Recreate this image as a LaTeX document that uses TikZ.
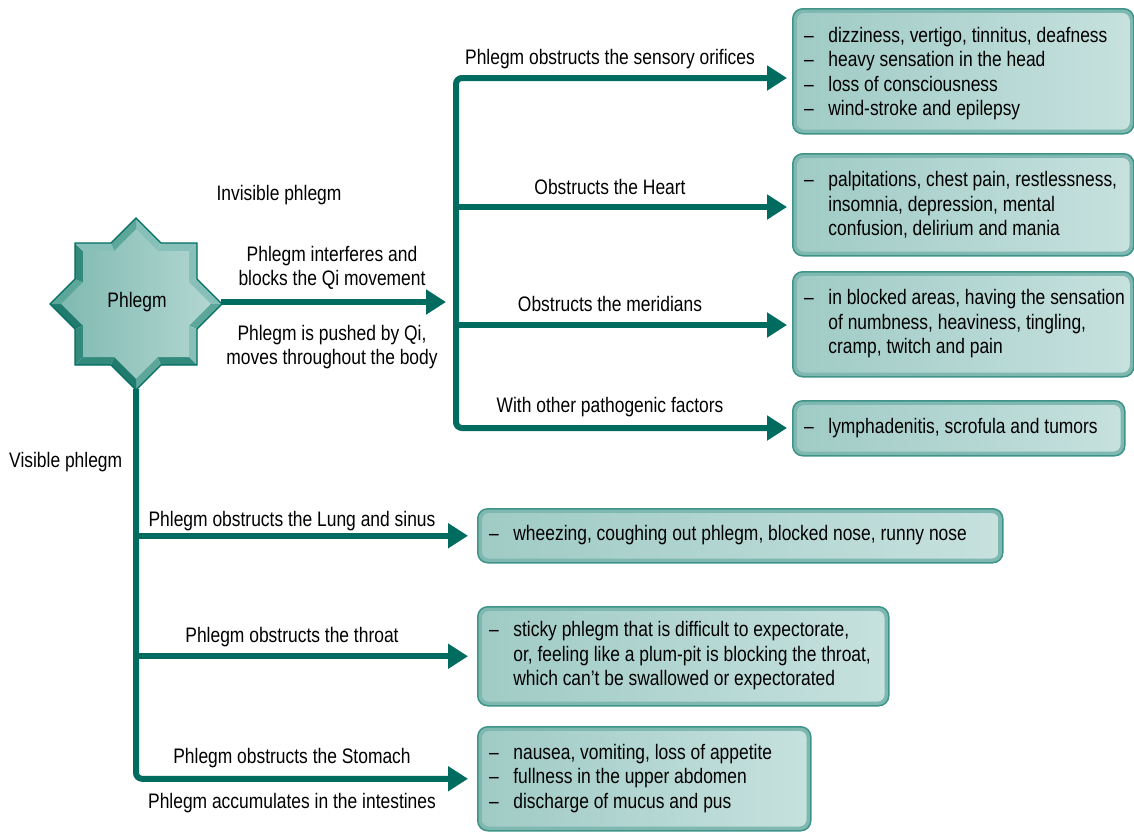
\documentclass[tikz,border=0pt]{standalone}
\usepackage{fontspec}
\setmainfont[FakeStretch=0.83]{Liberation Sans}
\usetikzlibrary{arrows.meta}
\definecolor{flow}{RGB}{0,108,96}
\definecolor{boxedge}{RGB}{62,148,136}
\definecolor{boxrim}{RGB}{126,184,176}
\definecolor{boxinL}{RGB}{160,203,197}
\definecolor{boxinR}{RGB}{198,225,222}
\definecolor{bevA}{RGB}{134,192,184}
\definecolor{bevB}{RGB}{92,166,154}
\definecolor{bevC}{RGB}{50,138,125}
\definecolor{bevD}{RGB}{32,122,110}
\definecolor{starinL}{RGB}{128,186,178}
\definecolor{starinR}{RGB}{178,214,209}
\tikzset{
  flowline/.style={draw=flow, line width=6pt},
  flowarrow/.style={flowline, -{Triangle[length=20pt,width=24pt]}},
  boxouter/.style={draw=boxedge, line width=1.5pt, fill=boxrim, rounded corners=10pt, inner sep=0pt},
  boxinner/.style={left color=boxinL, right color=boxinR, rounded corners=7pt},
  lbl/.style={inner sep=0pt, anchor=base, align=center},
  mlbl/.style={inner sep=0pt, anchor=center, align=center},
}
% [text shift], name, x, y, width, height, list
\newcommand\symbox[7][0pt]{%
  \node[boxouter, minimum width=#5pt, minimum height=#6pt, anchor=north west] (#2) at (#3,#4) {};
  \shade[boxinner] ([xshift=5pt,yshift=-5pt]#2.north west) rectangle ([xshift=-5pt,yshift=5pt]#2.south east);
  \node[anchor=west, inner sep=0pt] (#2t) at ([xshift=12pt,yshift=#1]#2.west)
    {\begin{tabular}{@{}l@{\hspace{14.5pt}}l@{}}#7\end{tabular}};
}
\begin{document}
\begin{tikzpicture}[x=1pt, y=-1pt, font=\fontsize{21}{24.5}\selectfont]
\useasboundingbox (0,0) rectangle (1134,831);

% central eight-pointed star: a square and a diamond, with a bevelled rim
\node[circle, minimum size=170pt, inner sep=0pt] (phlegm) at (136,304) {};
\begin{scope}[shift={(phlegm.center)}, yscale=-1]
  \foreach \n/\x/\y in {1/0/86, 2/25/61, 3/61/61, 4/61/25, 5/86/0, 6/61/-25, 7/61/-61, 8/25/-61,
                        9/0/-86, 10/-25/-61, 11/-61/-61, 12/-61/-25, 13/-86/0, 14/-61/25, 15/-61/61, 16/-25/61}
    \coordinate (o\n) at (\x,\y);
  \foreach \n/\x/\y in {1/0/74.7, 2/21.7/53, 3/53/53, 4/53/21.7, 5/74.7/0, 6/53/-21.7, 7/53/-53, 8/21.7/-53,
                        9/0/-74.7, 10/-21.7/-53, 11/-53/-53, 12/-53/-21.7, 13/-74.7/0, 14/-53/21.7, 15/-53/53, 16/-21.7/53}
    \coordinate (i\n) at (\x,\y);
  \foreach \a/\b/\c in {1/2/bevA, 2/3/bevA, 3/4/bevA, 4/5/bevA, 5/6/bevB, 6/7/bevA, 7/8/bevC, 8/9/bevB,
                        9/10/bevD, 10/11/bevC, 11/12/bevC, 12/13/bevD, 13/14/bevB, 14/15/bevC, 15/16/bevA, 16/1/bevB}
    \fill[\c] (o\a) -- (o\b) -- (i\b) -- (i\a) -- cycle;
  \shade[left color=starinL, right color=starinR]
    (i1) -- (i2) -- (i3) -- (i4) -- (i5) -- (i6) -- (i7) -- (i8) -- (i9) -- (i10) -- (i11) -- (i12) -- (i13) -- (i14) -- (i15) -- (i16) -- cycle;
  \draw[flow, line width=1.3pt, line join=miter]
    (o1) -- (o2) -- (o3) -- (o4) -- (o5) -- (o6) -- (o7) -- (o8) -- (o9) -- (o10) -- (o11) -- (o12) -- (o13) -- (o14) -- (o15) -- (o16) -- cycle;
\end{scope}
\node[inner sep=0pt] (phlegmtxt) at (137,302) {Phlegm};

% symptom boxes
\symbox[-3pt]{b1}{792}{8}{341}{125}{–&dizziness, vertigo, tinnitus, deafness\\ –&heavy sensation in the head\\ –&loss of consciousness\\ –&wind-stroke and epilepsy}
\symbox[-1.5pt]{b2}{792}{153}{341}{102}{–&palpitations, chest pain, restlessness,\\ &insomnia, depression, mental\\ &confusion, delirium and mania}
\symbox{b3}{792}{271}{341}{105}{–&in blocked areas, having the sensation\\ &of numbness, heaviness, tingling,\\ &cramp, twitch and pain}
\symbox{b4}{792}{400}{332}{55}{–&lymphadenitis, scrofula and tumors}
\symbox{b5}{477}{508}{525}{54}{–&wheezing, coughing out phlegm, blocked nose, runny nose}
\symbox{b6}{477}{606}{411}{99}{–&sticky phlegm that is difficult to expectorate,\\ &or, feeling like a plum-pit is blocking the throat,\\ &which can’t be swallowed or expectorated}
\symbox{b7}{477}{726}{333}{104}{–&nausea, vomiting, loss of appetite\\ –&fullness in the upper abdomen\\ –&discharge of mucus and pus}

% invisible phlegm branch
\coordinate (hub) at (456,302);
\coordinate (t1) at (787,78);
\coordinate (t2) at (787,207);
\coordinate (t3) at (787,325);
\coordinate (t4) at (787,428);
\draw[flowarrow, shorten >=10pt] (phlegm.east |- hub) -- (hub);
\draw[flowarrow, rounded corners=6pt] (hub) |- (t1);
\draw[flowarrow, rounded corners=6pt] (hub) |- (t4);
\draw[flowarrow] (hub |- t2) -- (t2);
\draw[flowarrow] (hub |- t3) -- (t3);

% visible phlegm branch
\draw[flowarrow, rounded corners=6pt, shorten >=9pt] (phlegm.south) |- (b7.west);
\draw[flowarrow, shorten >=9pt] (phlegm.south |- b5.west) -- (b5.west);
\draw[flowarrow, shorten >=9pt] (phlegm.south |- b6.west) -- (b6.west);

% labels
\node[lbl] (l1) at (610,64) {Phlegm obstructs the sensory orifices};
\node[lbl] (l2) at (610,194) {Obstructs the Heart};
\node[lbl] (l3) at (610,311) {Obstructs the meridians};
\node[lbl] (l4) at (610,412) {With other pathogenic factors};
\node[lbl] (l5) at (279,200) {Invisible phlegm};
\node[mlbl] (l6) at (332,268) {Phlegm interferes and\\blocks the Qi movement};
\node[mlbl] (l7) at (332,347) {Phlegm is pushed by Qi,\\moves throughout the body};
\node[lbl, anchor=base west] (l8) at (9,467) {Visible phlegm};
\node[lbl] (l9) at (292,526) {Phlegm obstructs the Lung and sinus};
\node[lbl] (l10) at (292,642) {Phlegm obstructs the throat};
\node[lbl] (l11) at (292,763) {Phlegm obstructs the Stomach};
\node[lbl] (l12) at (292,808) {Phlegm accumulates in the intestines};
\end{tikzpicture}
\end{document}
